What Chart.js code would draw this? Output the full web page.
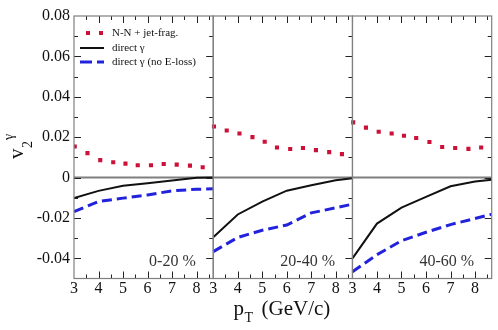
<!DOCTYPE html>
<html>
<head>
<meta charset="utf-8">
<script src="https://cdn.jsdelivr.net/npm/chart.js@4/dist/chart.umd.min.js"></script>
<style>
html,body{margin:0;padding:0;background:#fff;}
#wrap{position:relative;width:498px;height:330px;}
</style>
</head>
<body>
<div id="wrap"><canvas id="c" width="498" height="330"></canvas></div>
<script>
// ---- data ----
const panelWidth = 5.68;               // pT span of one panel (3 .. 8.68)
const panelLabels = ['0-20 %', '20-40 %', '40-60 %'];
const xTicks = [3, 4, 5, 6, 7, 8];
const yTicks = [-0.04, -0.02, 0, 0.02, 0.04, 0.06, 0.08];
const legendLabels = ['N-N + jet-frag.', 'direct \u03b3', 'direct \u03b3 (no E-loss)'];

const dotPT = [3.03, 3.55, 4.07, 4.6, 5.1, 5.6, 6.14, 6.66, 7.19, 7.73, 8.25];
const jetFrag020  = [0.0154, 0.0121, 0.0086, 0.0076, 0.0069, 0.0061, 0.0061, 0.0067, 0.0064, 0.0059, 0.0051];
const jetFrag2040 = [0.0253, 0.0233, 0.0218, 0.0200, 0.0177, 0.0149, 0.0141, 0.0146, 0.0136, 0.0126, 0.0116];
const jetFrag4060 = [0.0273, 0.0247, 0.0227, 0.0218, 0.0207, 0.0196, 0.0176, 0.0151, 0.0146, 0.0142, 0.0149];

const linePT = [3, 4, 5, 6, 7, 8, 8.68];
const direct020  = [-0.0102, -0.0066, -0.0041, -0.0028, -0.0015, -0.0001, 0.0000];
const direct2040 = [-0.0296, -0.0183, -0.0119, -0.0065, -0.0038, -0.0013, -0.0003];
const direct4060 = [-0.0400, -0.0228, -0.0149, -0.0096, -0.0043, -0.0020, -0.0011];
const noEloss020  = [-0.0169, -0.0119, -0.0102, -0.0086, -0.0066, -0.0058, -0.0056];
const noEloss2040 = [-0.0367, -0.0297, -0.0261, -0.0235, -0.0175, -0.0150, -0.0132];
const noEloss4060 = [-0.0467, -0.0382, -0.0313, -0.0271, -0.0233, -0.0203, -0.0182];

const jetFrag = [jetFrag020, jetFrag2040, jetFrag4060];
const direct = [direct020, direct2040, direct4060];
const noEloss = [noEloss020, noEloss2040, noEloss4060];

const RED = '#cc1038', BLUE = '#2222dd', BLACK = '#111111', GRAY = '#7f7f7f';
const SERIF = "'Liberation Serif', 'DejaVu Serif', serif";

function pts(xs, ys, k) { return xs.map((v, i) => ({x: v + k * panelWidth, y: ys[i]})); }

const datasets = [];
for (let k = 0; k < 3; k++) {
  datasets.push({data: pts(dotPT, jetFrag[k], k), showLine: false, pointStyle: 'rect',
    pointRadius: 2.9, pointBorderWidth: 0, pointBackgroundColor: RED, borderColor: RED});
  datasets.push({data: pts(linePT, noEloss[k], k), borderColor: BLUE, borderWidth: 3,
    borderDash: [10, 5], pointRadius: 0, tension: 0, fill: false});
  datasets.push({data: pts(linePT, direct[k], k), borderColor: BLACK, borderWidth: 2,
    pointRadius: 0, tension: 0, fill: false});
}

function line(ctx, x1, y1, x2, y2) { ctx.beginPath(); ctx.moveTo(x1, y1); ctx.lineTo(x2, y2); ctx.stroke(); }

const decor = {
  id: 'decor',
  beforeDatasetsDraw(chart) {
    const {ctx, chartArea: a, scales: {y}} = chart;
    ctx.save();
    ctx.strokeStyle = GRAY; ctx.lineWidth = 2;
    const y0 = y.getPixelForValue(0);
    line(ctx, a.left, y0, a.right, y0);
    ctx.restore();
  },
  afterDatasetsDraw(chart) {
    const {ctx, chartArea: a, scales: {x, y}} = chart;
    ctx.save();
    // ticks (inward)
    ctx.strokeStyle = '#222'; ctx.lineWidth = 1;
    for (let k = 0; k < 3; k++) {
      for (let h = 7; h <= 17; h++) {
        const t = h / 2, px = Math.round(x.getPixelForValue(t + k * panelWidth)) + 0.5;
        const len = (h % 2 === 0) ? 7 : 4;
        line(ctx, px, a.top, px, a.top + len);
        line(ctx, px, a.bottom, px, a.bottom - len);
      }
      const xr = x.getPixelForValue(3 + (k + 1) * panelWidth);
      for (let i = -4; i <= 7; i++) {
        const py = Math.round(y.getPixelForValue(i / 100)) + 0.5;
        const len = (i % 2 === 0) ? 7 : 4;
        line(ctx, xr, py, xr - len, py);
        if (k === 0) line(ctx, a.left, py, a.left + len, py);
      }
    }
    // panel frames
    ctx.strokeStyle = GRAY; ctx.lineWidth = 1.2;
    for (let k = 0; k < 3; k++) {
      const xl = x.getPixelForValue(3 + k * panelWidth), xr = x.getPixelForValue(3 + (k + 1) * panelWidth);
      ctx.strokeRect(xl, a.top, xr - xl, a.bottom - a.top);
    }
    // panel labels
    ctx.fillStyle = '#333'; ctx.font = '16px ' + SERIF;
    ctx.textAlign = 'right'; ctx.textBaseline = 'alphabetic';
    for (let k = 0; k < 3; k++) {
      const xr = x.getPixelForValue(3 + (k + 1) * panelWidth);
      ctx.fillText(panelLabels[k], xr - 17.5, a.bottom - 12.5);
    }
    // legend
    const lx = a.left + 6, rows = [a.top + 17, a.top + 32, a.top + 46];
    ctx.fillStyle = RED;
    ctx.fillRect(lx + 6, rows[0] - 2, 4, 4);
    ctx.fillRect(lx + 19, rows[0] - 2, 4, 4);
    ctx.strokeStyle = BLACK; ctx.lineWidth = 2;
    line(ctx, lx, rows[1], lx + 24, rows[1]);
    ctx.strokeStyle = BLUE; ctx.lineWidth = 3;
    line(ctx, lx, rows[2], lx + 12, rows[2]);
    line(ctx, lx + 17, rows[2], lx + 24, rows[2]);
    ctx.fillStyle = '#111'; ctx.font = '11px ' + SERIF; ctx.textAlign = 'left'; ctx.textBaseline = 'middle';
    legendLabels.forEach((s, i) => ctx.fillText(s, lx + 32, rows[i]));
    // x axis title
    ctx.fillStyle = '#111'; ctx.textBaseline = 'alphabetic';
    ctx.font = '21px ' + SERIF;
    ctx.fillText('p', 233.5, 315);
    ctx.font = '14px ' + SERIF;
    ctx.fillText('T', 244.5, 322);
    ctx.font = '21px ' + SERIF;
    ctx.fillText('(GeV/c)', 261.5, 315);
    // y axis title (rotated)
    ctx.translate(23, 159);
    ctx.rotate(-Math.PI / 2);
    ctx.font = '21px ' + SERIF;
    ctx.fillText('v', 0, 0);
    ctx.font = '14px ' + SERIF;
    ctx.fillText('2', 11, 9);
    ctx.fillText('\u03b3', 19, -10);
    ctx.restore();
  }
};

new Chart(document.getElementById('c'), {
  type: 'line',
  data: {datasets},
  options: {
    responsive: false, animation: false, devicePixelRatio: 1,
    layout: {padding: {top: 16, right: 6.3, left: 0, bottom: 0}},
    plugins: {legend: {display: false}, tooltip: {enabled: false}},
    scales: {
      x: {
        type: 'linear', min: 3, max: 3 + 3 * panelWidth,
        grid: {display: false, drawTicks: false}, border: {display: false},
        afterBuildTicks(s) {
          const t = [];
          for (let k = 0; k < 3; k++) xTicks.forEach(v => t.push({value: v + k * panelWidth}));
          s.ticks = t;
        },
        afterFit(s) { s.height = 330 - 278.5; },
        ticks: {
          autoSkip: false, maxRotation: 0, padding: 1, color: '#111',
          font: {family: SERIF, size: 16},
          callback(v) { return String(Math.round(((v - 3) % panelWidth + panelWidth) % panelWidth + 3)); }
        }
      },
      y: {
        min: -0.05, max: 0.08,
        grid: {display: false, drawTicks: false}, border: {display: false},
        afterBuildTicks(s) { s.ticks = yTicks.map(v => ({value: v})); },
        afterFit(s) { s.width = 74; },
        ticks: {
          padding: 4, color: '#111', font: {family: SERIF, size: 16},
          callback(v) { return Math.abs(v) < 1e-9 ? '0' : v.toFixed(2); }
        }
      }
    }
  },
  plugins: [decor]
});
</script>
</body>
</html>
